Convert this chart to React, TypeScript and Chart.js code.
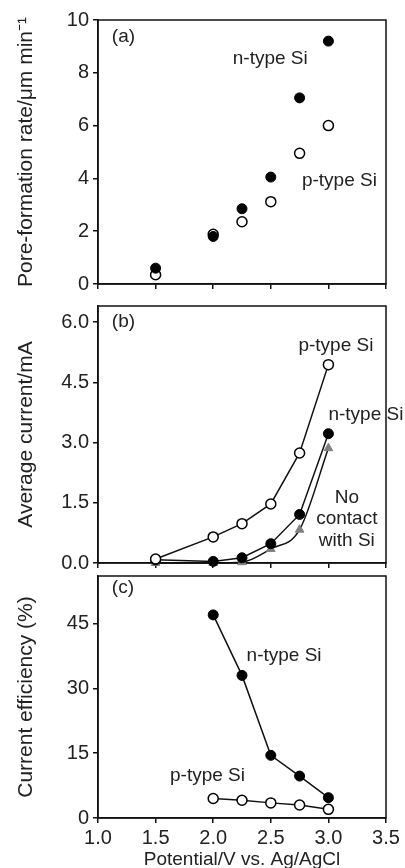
import React, { useEffect, useRef } from 'react';
import { Chart, registerables } from 'chart.js';

Chart.register(...registerables);

// ---------- data ----------
const potentials = [1.5, 2.0, 2.25, 2.5, 2.75, 3.0];
const effPotentials = [2.0, 2.25, 2.5, 2.75, 3.0];
const rateN = [0.6, 1.8, 2.85, 4.05, 7.05, 9.2];
const rateP = [0.35, 1.88, 2.36, 3.12, 4.95, 6.0];
const currentP = [0.1, 0.65, 0.98, 1.47, 2.74, 4.94];
const currentN = [0.08, 0.04, 0.13, 0.48, 1.21, 3.22];
const currentNoContact = [0.0, 0.0, 0.02, 0.35, 0.83, 2.86];
const effN = [47, 33, 14.5, 9.7, 4.7];
const effP = [4.5, 4.1, 3.5, 3.0, 2.0];
const xTicks = [1.0, 1.5, 2.0, 2.5, 3.0, 3.5];
const rateTicks = [0, 2, 4, 6, 8, 10];
const currentTicks = [0, 1.5, 3.0, 4.5, 6.0];
const effTicks = [0, 15, 30, 45];

const FONT = "'Liberation Sans', Arial, sans-serif";
const INK = '#111';
const TEXT = '#222';

const pts = (xs: number[], ys: number[]) => xs.map((x, i) => ({ x, y: ys[i] }));

const framePlugin = {
  id: 'frame',
  beforeDatasetsDraw(chart: any) {
    const { ctx, chartArea } = chart;
    const { left, top, right, bottom } = chartArea;
    ctx.save();
    ctx.strokeStyle = INK;
    ctx.lineWidth = 1.5;
    ctx.strokeRect(left, top, right - left, bottom - top);
    ctx.restore();
  },
};

const notesPlugin = {
  id: 'notes',
  beforeDatasetsDraw(chart: any, _args: any, opts: any) {
    const items = (opts && opts.items) || [];
    const { ctx, scales } = chart;
    ctx.save();
    ctx.fillStyle = TEXT;
    ctx.font = `19px ${FONT}`;
    ctx.textBaseline = 'middle';
    for (const it of items) {
      ctx.textAlign = it.align || 'left';
      ctx.fillText(it.text, scales.x.getPixelForValue(it.x), scales.y.getPixelForValue(it.y));
    }
    ctx.restore();
  },
};

function yAxis(min: number, max: number, ticks: number[], title: string, fmt: (v: number) => string) {
  return {
    type: 'linear',
    position: 'left',
    min,
    max,
    afterBuildTicks: (s: any) => {
      s.ticks = ticks.map((v) => ({ value: v }));
    },
    afterFit: (s: any) => {
      s.width = 98;
    },
    grid: { display: true, drawOnChartArea: false, drawTicks: true, tickLength: 5, color: INK, lineWidth: 1.5 },
    border: { display: true, color: INK, width: 1.5 },
    ticks: { color: TEXT, font: { size: 20, family: FONT }, padding: 4, callback: (v: any) => fmt(Number(v)) },
    title: { display: true, text: title, color: TEXT, font: { size: 21, family: FONT }, padding: { top: 14, bottom: 0 } },
  };
}

function xAxis(height: number, showLabels: boolean, title?: string) {
  return {
    type: 'linear',
    position: 'bottom',
    min: 1,
    max: 3.5,
    afterBuildTicks: (s: any) => {
      s.ticks = xTicks.map((v) => ({ value: v }));
    },
    afterFit: (s: any) => {
      s.height = height;
    },
    grid: { display: true, drawOnChartArea: false, drawTicks: true, tickLength: 5, color: INK, lineWidth: 1.5 },
    border: { display: true, color: INK, width: 1.5 },
    ticks: {
      display: showLabels,
      color: TEXT,
      font: { size: 20, family: FONT },
      padding: 3,
      maxRotation: 0,
      autoSkip: false,
      callback: (v: any) => Number(v).toFixed(1),
    },
    title: title
      ? { display: true, text: title, color: TEXT, font: { size: 19, family: FONT }, padding: { top: 0, bottom: 19 } }
      : { display: false },
  };
}

const filled = (data: any[], r: number, line: boolean) => ({
  data,
  showLine: line,
  borderColor: INK,
  borderWidth: 1.5,
  pointBackgroundColor: '#000',
  pointBorderColor: '#000',
  pointBorderWidth: 1,
  pointRadius: r,
  clip: false as any,
});

const open = (data: any[], r: number, line: boolean) => ({
  data,
  showLine: line,
  borderColor: INK,
  borderWidth: 1.5,
  pointBackgroundColor: '#fff',
  pointBorderColor: '#000',
  pointBorderWidth: 1.5,
  pointRadius: r,
  clip: false as any,
});

function baseOptions(padTop: number, x: any, y: any, notes: any[]) {
  return {
    responsive: false,
    animation: false,
    devicePixelRatio: 1,
    layout: { padding: { top: padTop, right: 19, bottom: 0, left: 0 }, autoPadding: false },
    plugins: { legend: { display: false }, tooltip: { enabled: false }, notes: { items: notes } },
    scales: { x, y },
  };
}

export default function App() {
  const refA = useRef<HTMLCanvasElement>(null);
  const refB = useRef<HTMLCanvasElement>(null);
  const refC = useRef<HTMLCanvasElement>(null);

  useEffect(() => {
    const charts: Chart[] = [];

    charts.push(
      new Chart(refA.current as HTMLCanvasElement, {
        type: 'scatter',
        data: {
          datasets: [filled(pts(potentials, rateN), 5, false), open(pts(potentials, rateP), 5, false)],
        } as any,
        options: baseOptions(
          20,
          xAxis(5, false),
          yAxis(0, 10, rateTicks, 'Pore-formation rate/μm min⁻¹', (v) => String(v)),
          [
            { text: '(a)', x: 1.12, y: 9.38 },
            { text: 'n-type Si', x: 2.17, y: 8.55 },
            { text: 'p-type Si', x: 2.77, y: 3.9 },
          ]
        ) as any,
        plugins: [notesPlugin, framePlugin],
      })
    );

    charts.push(
      new Chart(refB.current as HTMLCanvasElement, {
        type: 'scatter',
        data: {
          datasets: [
            open(pts(potentials, currentP), 5, true),
            filled(pts(potentials, currentN), 5, true),
            {
              data: pts(potentials, currentNoContact),
              showLine: true,
              cubicInterpolationMode: 'monotone',
              borderColor: INK,
              borderWidth: 1.5,
              pointStyle: 'triangle',
              pointBackgroundColor: '#808080',
              pointBorderColor: '#808080',
              pointBorderWidth: 1,
              pointRadius: 5,
              clip: false,
            },
          ],
        } as any,
        options: baseOptions(
          5,
          xAxis(17, false),
          yAxis(0, 6.4, currentTicks, 'Average current/mA', (v) => v.toFixed(1)),
          [
            { text: '(b)', x: 1.12, y: 6.0 },
            { text: 'p-type Si', x: 2.74, y: 5.42 },
            { text: 'n-type Si', x: 3.0, y: 3.7 },
            { text: 'No', x: 3.16, y: 1.63, align: 'center' },
            { text: 'contact', x: 3.16, y: 1.1, align: 'center' },
            { text: 'with Si', x: 3.16, y: 0.56, align: 'center' },
          ]
        ) as any,
        plugins: [notesPlugin, framePlugin],
      })
    );

    charts.push(
      new Chart(refC.current as HTMLCanvasElement, {
        type: 'scatter',
        data: {
          datasets: [filled(pts(effPotentials, effN), 5, true), open(pts(effPotentials, effP), 5, true)],
        } as any,
        options: baseOptions(
          7,
          xAxis(72, true, 'Potential/V vs. Ag/AgCl'),
          yAxis(0, 56, effTicks, 'Current efficiency (%)', (v) => String(v)),
          [
            { text: '(c)', x: 1.12, y: 53.2 },
            { text: 'n-type Si', x: 2.29, y: 37.6 },
            { text: 'p-type Si', x: 1.625, y: 9.7 },
          ]
        ) as any,
        plugins: [notesPlugin, framePlugin],
      })
    );

    return () => charts.forEach((c) => c.destroy());
  }, []);

  const cv = (top: number, height: number): React.CSSProperties => ({
    position: 'absolute',
    left: 0,
    top,
    width: 405,
    height,
  });

  return (
    <div
      style={{
        position: 'absolute',
        left: 0,
        top: 0,
        width: 405,
        height: 868,
        overflow: 'hidden',
        background: '#fff',
      }}
    >
      <canvas ref={refA} width={405} height={300} style={cv(0, 300)} />
      <canvas ref={refB} width={405} height={290} style={cv(290, 290)} />
      <canvas ref={refC} width={405} height={330} style={cv(560, 330)} />
    </div>
  );
}
